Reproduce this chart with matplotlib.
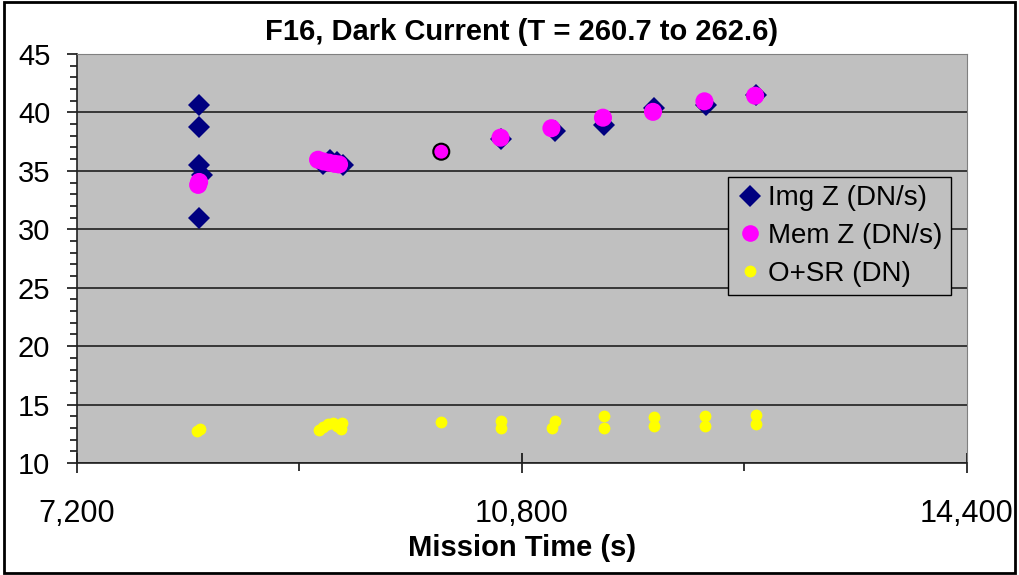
import numpy as np
import matplotlib.pyplot as plt
from matplotlib.patches import Rectangle
from matplotlib.ticker import FuncFormatter, MultipleLocator

# data
img_t = [8185, 8185, 8185, 8215, 8185,
         9190, 9250, 9300, 9350,
         10634, 11063, 11467, 11871, 12288, 12692]
img_z = [40.66, 38.76, 35.52, 34.66, 31.0,
         35.6, 35.95, 35.8, 35.5,
         37.76, 38.42, 38.9, 40.37, 40.63, 41.52]

mem_t = [8180, 8188,
         9150, 9195, 9240, 9285, 9320,
         10147, 10626, 11038, 11455, 11860, 12276, 12686]
mem_z = [33.8, 34.05,
         35.95, 35.8, 35.7, 35.6, 35.55,
         36.64, 37.84, 38.65, 39.55, 40.05, 40.95, 41.43]
mem_marked = 7  # point drawn with black outline

osr_t = [8170, 8195,
         9160, 9190, 9230, 9270, 9300, 9340, 9335,
         10147, 10630, 10630, 11063, 11040, 11460, 11460,
         11870, 11870, 12280, 12280, 12690, 12690]
osr = [12.7, 12.95,
       12.85, 13.1, 13.3, 13.45, 13.2, 13.4, 12.95,
       13.53, 13.58, 13.0, 13.58, 13.0, 14.05, 13.0,
       13.93, 13.18, 14.05, 13.18, 14.08, 13.33]

plt.rcParams['font.family'] = ['Liberation Sans', 'DejaVu Sans']

fig = plt.figure(figsize=(10.2, 5.75), dpi=100)
ax = fig.add_axes([77 / 1020, 1 - 463 / 575, 890 / 1020, 409 / 575])
ax.set_facecolor('#C0C0C0')

ax.plot(img_t, img_z, 'D', color='#000080', ms=11, mew=0, zorder=3, label='Img Z (DN/s)')
edges = ['#FF00FF'] * len(mem_t)
edges[mem_marked] = 'black'
ax.scatter(mem_t, mem_z, s=11.5 ** 2, c='#FF00FF', edgecolors=edges, linewidths=1.5, zorder=4)
ax.plot([], [], 'o', color='#FF00FF', ms=12, mew=0, label='Mem Z (DN/s)')
ax.plot(osr_t, osr, 'o', color='#FFFF00', ms=8.5, mew=0, zorder=5, label='O+SR (DN)')

ax.set_xlim(7200, 14400)
ax.set_ylim(10, 45)
ax.set_xticks([7200, 10800, 14400])
ax.xaxis.set_minor_locator(MultipleLocator(1800))
ax.yaxis.set_major_locator(MultipleLocator(5))
ax.yaxis.set_minor_locator(MultipleLocator(1))
ax.xaxis.set_major_formatter(FuncFormatter(lambda v, p: f'{int(v):,}'))
ax.grid(axis='y', which='major', color='#202020', lw=1.2)
ax.set_axisbelow(True)

ax.tick_params(axis='x', which='major', direction='inout', length=14.4, width=1.1,
               labelsize=22, pad=19)
ax.tick_params(axis='x', which='minor', direction='out', length=5.8, width=1.1)
ax.tick_params(axis='y', which='major', direction='out', length=7.2, width=1.1,
               labelsize=21, pad=12)
ax.tick_params(axis='y', which='minor', direction='out', length=5, width=1.1)

for side in ['top', 'right']:
    ax.spines[side].set_color('#808080')
for side in ['left', 'bottom']:
    ax.spines[side].set_color('#202020')
    ax.spines[side].set_linewidth(1.2)

ax.set_title('F16, Dark Current (T = 260.7 to 262.6)', fontweight='bold', fontsize=21, pad=10)
ax.set_xlabel('Mission Time (s)', fontweight='bold', fontsize=21, labelpad=3)

leg = ax.legend(loc='upper left', bbox_to_anchor=(0.7315, 0.6993), frameon=True, fancybox=False,
                facecolor='#C0C0C0', edgecolor='black', framealpha=1,
                prop={'size': 20}, labelspacing=0.42,
                handletextpad=0.15, handlelength=1.0, borderpad=0.3, borderaxespad=0)
leg.get_frame().set_linewidth(1.0)

fig.patches.append(Rectangle((0.004, 0.003), 0.991, 0.994, transform=fig.transFigure,
                             fill=False, edgecolor='black', lw=2))

fig.savefig('out.png', dpi=100)
